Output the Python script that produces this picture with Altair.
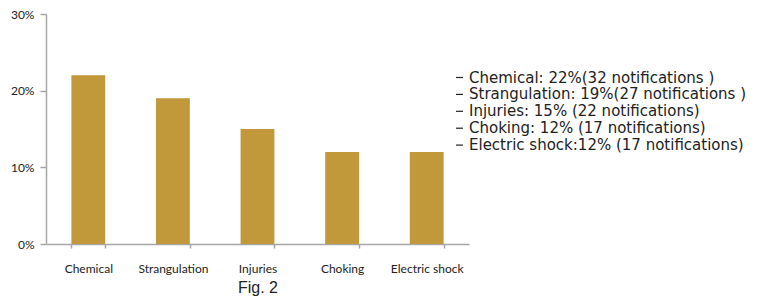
import altair as alt
import pandas as pd

categories = ["Chemical", "Strangulation", "Injuries", "Choking", "Electric shock"]
shares = [22, 19, 15, 12, 12]
notes = [
    "Chemical: 22%(32 notifications )",
    "Strangulation: 19%(27 notifications )",
    "Injuries: 15% (22 notifications)",
    "Choking: 12% (17 notifications)",
    "Electric shock:12% (17 notifications)",
]
y_ticks = [0, 10, 20, 30]

df = pd.DataFrame({"category": categories, "share": shares, "note": notes})

BAR = "#c1983a"
AXIS = "#a6a6a6"
TEXT = "#222222"

chart = alt.Chart(df).mark_bar(color=BAR, strokeWidth=0).encode(
    x=alt.X(
        "category:N",
        sort=categories,
        scale=alt.Scale(paddingInner=0.6, paddingOuter=0.3),
        axis=alt.Axis(
            title="Fig. 2",
            titleFont="Liberation Sans",
            titleFontSize=16,
            titleFontWeight="normal",
            titleColor=TEXT,
            titlePadding=5,
            labelAngle=0,
            labelFont="Lato",
            labelFontSize=12,
            labelColor=TEXT,
            labelPadding=15,
            tickBand="extent",
            tickSize=4,
            tickColor=AXIS,
            tickWidth=1.5,
            domainColor=AXIS,
            domainWidth=1.5,
        ),
    ),
    y=alt.Y(
        "share:Q",
        scale=alt.Scale(domain=[0, 30], nice=False),
        axis=alt.Axis(
            title=None,
            values=y_ticks,
            labelExpr="datum.value + '%'",
            labelFont="Lato",
            labelFontSize=12,
            labelColor=TEXT,
            labelPadding=6,
            tickSize=6,
            tickColor=AXIS,
            tickWidth=1.5,
            domainColor=AXIS,
            domainWidth=1.5,
            grid=False,
        ),
    ),
    stroke=alt.Stroke(
        "note:N",
        sort=notes,
        scale=alt.Scale(domain=notes, range=[TEXT] * 5),
        legend=alt.Legend(
            title=None,
            orient="none",
            legendX=406,
            legendY=56,
            symbolType="stroke",
            symbolSize=49,
            symbolStrokeWidth=1.2,
            symbolOffset=0,
            labelFont="DejaVu Sans",
            labelFontSize=15,
            labelColor=TEXT,
            labelOffset=2,
            labelLimit=400,
            rowPadding=0.9,
        ),
    ),
).properties(
    width=423,
    height=230,
    autosize=alt.AutoSizeParams(type="none"),
    padding={"left": 38, "top": 6, "right": 280, "bottom": 53},
).configure_view(stroke=None)

chart.save("out.html", embed_options={"renderer": "svg", "actions": False})
